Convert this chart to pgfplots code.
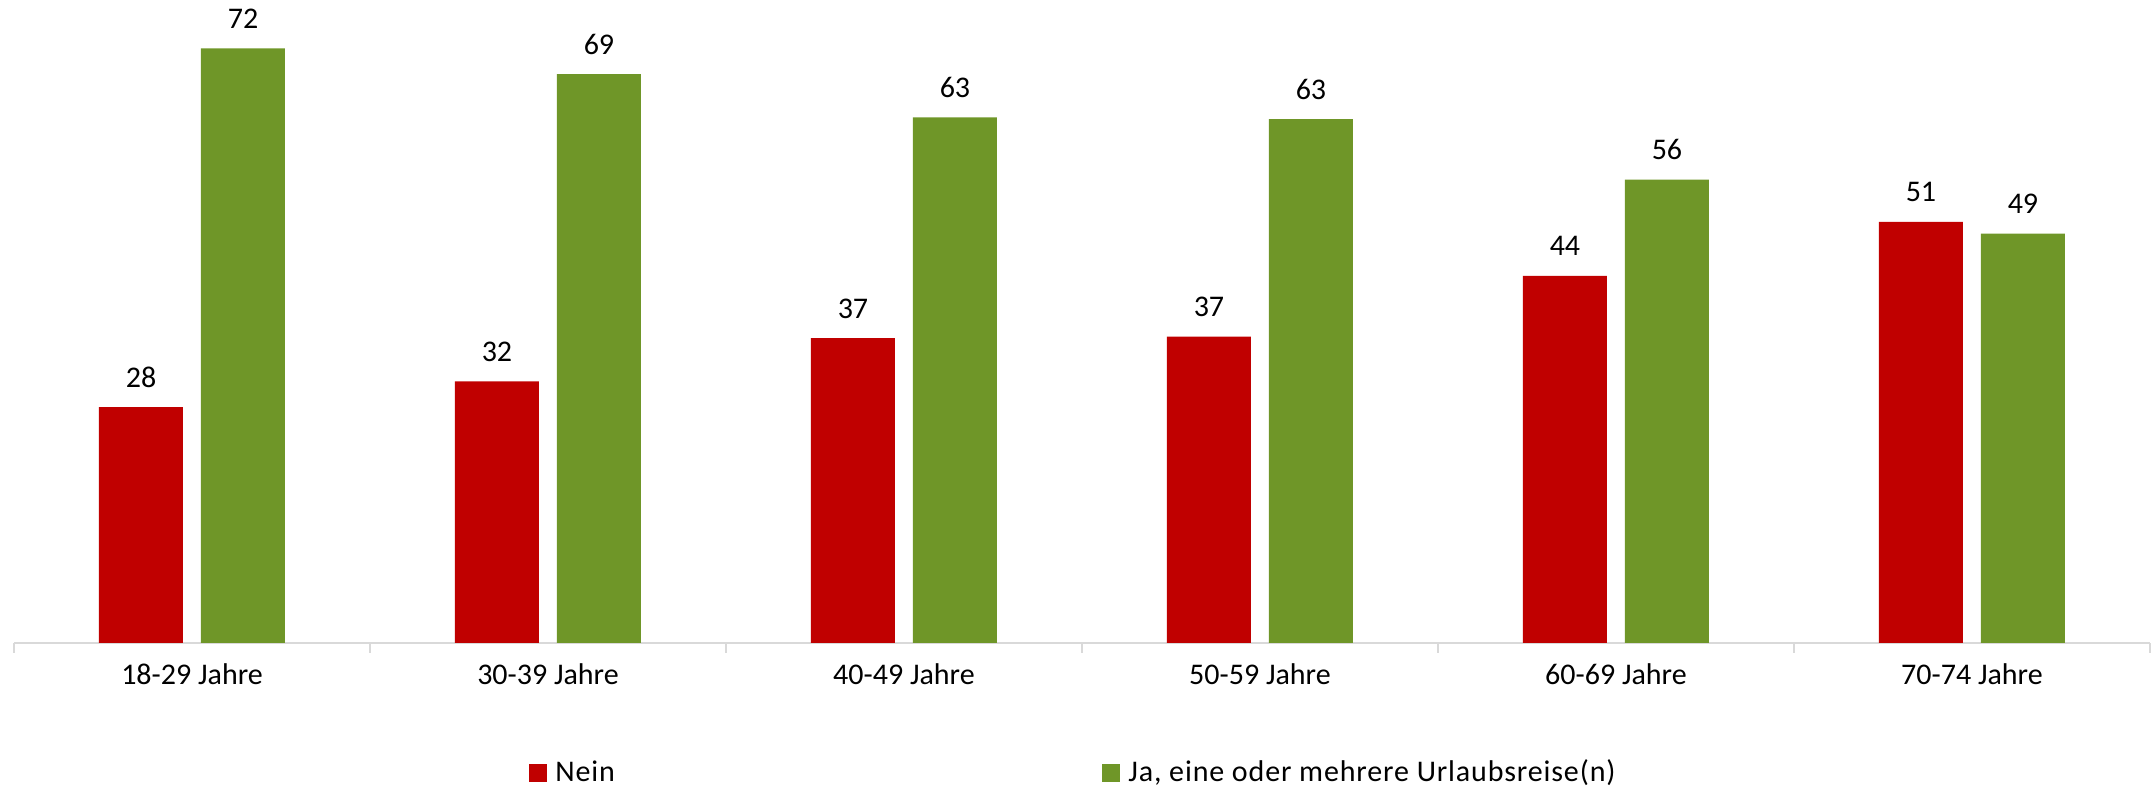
\documentclass[border=0pt]{standalone}
\usepackage{pgfplots}
\usepackage{pgfplotstable}
\pgfplotsset{compat=1.18}
\usepackage{fontspec}
\setmainfont{Carlito}
\newfontfamily\legfont[LetterSpace=2.9]{Carlito}
\definecolor{neinred}{HTML}{C00000}
\definecolor{jagreen}{HTML}{6F9628}
\definecolor{axgray}{HTML}{D9D9D9}
\pgfplotsset{sqlegend/.style={legend image code/.code={\fill[##1] (0pt,0pt) rectangle (9pt,9pt); \path (13pt,0pt);}}}
\pgfplotstableread{
x nein nl ja jl
0 28.4 28 71.6 72
1 31.5 32 68.5 69
2 36.7 37 63.3 63
3 36.9 37 63.1 63
4 44.2 44 55.8 56
5 50.7 51 49.3 49
}\data
\begin{document}
\begin{tikzpicture}
\begin{axis}[name=ax, at={(0pt,0pt)}, anchor=south west, scale only axis,
  width=1068pt, height=311.4pt,
  xmin=-0.5, xmax=5.5, ymin=0, ymax=75,
  axis x line*=bottom, axis y line=none,
  x axis line style={axgray, line width=1pt},
  xtick={0,1,2,3,4,5},
  xticklabels={18-29 Jahre,30-39 Jahre,40-49 Jahre,50-59 Jahre,60-69 Jahre,70-74 Jahre},
  major tick length=0pt,
  major x tick style={draw=none},
  minor xtick={-0.5,0.5,1.5,2.5,3.5,4.5,5.5},
  minor x tick style={axgray, line width=1pt},
  minor tick length=5pt, tick align=outside,
  xticklabel style={anchor=base, yshift=-21pt, inner sep=0pt, font=\fontsize{15}{18}\selectfont},
  /pgf/number format/assume math mode=true,
  ybar=9pt, bar width=42pt,
  clip=false,
  nodes near coords,
  point meta=explicit,
  nodes near coords style={anchor=base, inner sep=0pt, yshift=10pt, text=black, font=\fontsize{15}{18}\selectfont},
  legend columns=2,
  legend style={draw=none, fill=none, inner sep=0pt, column sep=0pt,
    nodes={inner sep=0pt, text depth=0pt}, cells={anchor=base west},
    at={(0.2411,-0.2232)}, anchor=south west, font=\fontsize{15}{18}\selectfont\legfont},
]
\addplot[fill=neinred, draw=none, sqlegend] table[x=x, y=nein, meta=nl] {\data};
\addlegendentry{\makebox[273.5pt][l]{Nein}}
\addplot[fill=jagreen, draw=none, sqlegend] table[x=x, y=ja, meta=jl] {\data};
\addlegendentry{Ja, eine oder mehrere Urlaubsreise(n)}
\end{axis}
\pgfresetboundingbox
\path[use as bounding box] (-7pt,-73.5pt) rectangle (1070.5pt,321.5pt);
\end{tikzpicture}
\end{document}
